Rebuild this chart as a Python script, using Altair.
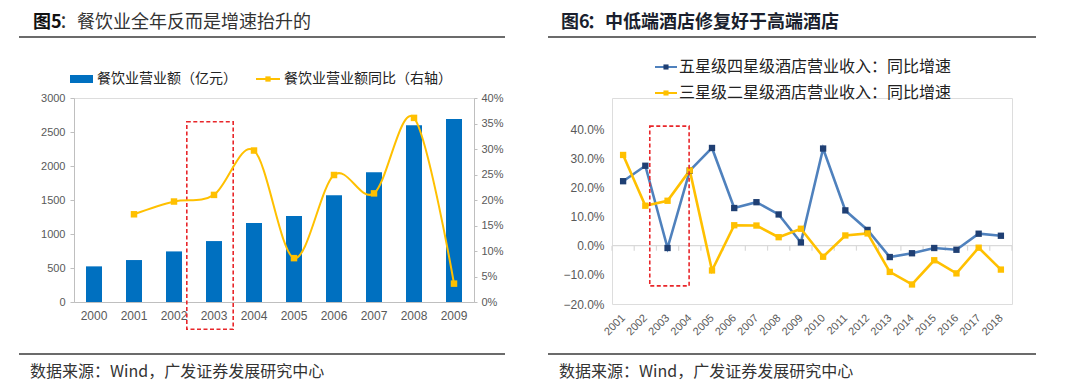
import altair as alt
import pandas as pd

# ---------------- data: left chart (图5) ----------------
years_l = ["2000", "2001", "2002", "2003", "2004", "2005", "2006", "2007", "2008", "2009"]
revenue = [524, 617, 744, 896, 1160, 1263, 1571, 1909, 2599, 2692]
yoy_years = ["2001", "2002", "2003", "2004", "2005", "2006", "2007", "2008", "2009"]
yoy = [0.172, 0.197, 0.210, 0.297, 0.086, 0.249, 0.213, 0.361, 0.036]

# ---------------- data: right chart (图6) ----------------
years_r = [2001, 2002, 2003, 2004, 2005, 2006, 2007, 2008, 2009, 2010,
           2011, 2012, 2013, 2014, 2015, 2016, 2017, 2018]
high_end = [0.221, 0.274, -0.008, 0.257, 0.335, 0.129, 0.149, 0.107, 0.011, 0.333,
            0.121, 0.054, -0.039, -0.026, -0.008, -0.014, 0.041, 0.034]
low_end = [0.311, 0.137, 0.154, 0.258, -0.085, 0.070, 0.069, 0.029, 0.058, -0.038,
           0.035, 0.042, -0.090, -0.133, -0.050, -0.095, -0.007, -0.082]
boundaries = [2000.5, 2001.5, 2002.5, 2003.5, 2004.5, 2005.5, 2006.5, 2007.5, 2008.5,
              2009.5, 2010.5, 2011.5, 2012.5, 2013.5, 2014.5, 2015.5, 2016.5, 2017.5, 2018.5]

# tick labels
ticks_rev = [0, 500, 1000, 1500, 2000, 2500, 3000]
ticks_yoy = [0, 0.05, 0.1, 0.15, 0.2, 0.25, 0.3, 0.35, 0.4]
ticks_r = [-0.2, -0.1, 0, 0.1, 0.2, 0.3, 0.4]

# highlighted boxes (annotation)
box_l = {"year": "2003", "top": 2650, "bottom": -400}
box_r = {"x0": 2002.2, "x1": 2003.97, "top": 0.41, "bottom": -0.138}

CJK = "Noto Sans CJK SC"
LAT = "Liberation Sans"
LBL = "#595959"
AX = "#bfbfbf"
BLUE_BAR = "#0070C0"
YEL = "#FFC000"
LBLUE = "#4F81BD"
NAVY = "#1F3F73"
RED = "#E8262A"
RULE = "#3a3a3a"

one = pd.DataFrame({"a": [0]})


def text(t, x, y, size, weight="normal", color="#222", font=CJK):
    return alt.Chart(one).mark_text(
        text=t, align="left", baseline="middle", font=font, fontSize=size,
        fontWeight=weight, color=color
    ).encode(x=alt.value(x), y=alt.value(y))


def hrule(x0, x1, y, color=RULE, w=1.6, op=1):
    return alt.Chart(one).mark_rule(color=color, strokeWidth=w, opacity=op).encode(
        x=alt.value(x0), x2=alt.value(x1), y=alt.value(y))


def sq(x, y, color, size=30):
    return alt.Chart(one).mark_square(color=color, size=size, opacity=1).encode(
        x=alt.value(x), y=alt.value(y))


# ================= LEFT PANEL =================
df_l = pd.DataFrame({"year": years_l, "revenue": revenue})
df_yoy = pd.DataFrame({"year": yoy_years, "yoy": yoy})
df_box_l = pd.DataFrame([box_l])

xs_l = alt.Scale(paddingInner=0.6, paddingOuter=0.3)
x_axis_l = alt.Axis(title=None, labelAngle=0, ticks=False, domainColor=AX,
                    labelPadding=8, labelFont=LAT, labelFontSize=12,
                    labelColor=LBL, labelOverlap=False)
y_axis_rev = alt.Axis(title=None, values=ticks_rev, format="d", grid=False,
                      domainColor=AX, tickColor=AX, tickSize=4, labelPadding=5,
                      labelFont=LAT, labelFontSize=11, labelColor=LBL,
                      labelOverlap=False, tickCount=7)
y_axis_yoy = alt.Axis(title=None, orient="right", format=".0%", values=ticks_yoy,
                      grid=False, domainColor=AX, tickColor=AX, tickSize=3,
                      labelPadding=4, labelFont=LAT, labelFontSize=11,
                      labelColor=LBL, labelOverlap=False, tickCount=9)

bars = alt.Chart(df_l).mark_bar(color=BLUE_BAR).encode(
    x=alt.X("year:N", scale=xs_l, sort=years_l, axis=x_axis_l),
    y=alt.Y("revenue:Q", scale=alt.Scale(domain=[0, 3000], nice=False), axis=y_axis_rev),
)

box1 = alt.Chart(df_box_l).mark_bar(
    filled=False, stroke=RED, strokeDash=[4, 2.5], strokeWidth=1.6,
    width={"band": 2.9}
).encode(
    x=alt.X("year:N", sort=years_l, axis=x_axis_l),
    y=alt.Y("top:Q", axis=y_axis_rev),
    y2="bottom:Q",
    xOffset=alt.value(-4),
)

line_l = alt.Chart(df_yoy).mark_line(color=YEL, strokeWidth=2, interpolate="cardinal").encode(
    x=alt.X("year:N", sort=years_l, axis=x_axis_l),
    y=alt.Y("yoy:Q", scale=alt.Scale(domain=[0, 0.4], nice=False), axis=y_axis_yoy),
)
pts_l = alt.Chart(df_yoy).mark_square(color=YEL, size=42, opacity=1).encode(
    x=alt.X("year:N", sort=years_l, axis=x_axis_l),
    y=alt.Y("yoy:Q", axis=y_axis_yoy),
)

ann_l = alt.layer(
    hrule(-50, 0, -89, "#ffffff", 1, 0),
    text("图5", -41, -75, 18, "bold", "#111"),
    text("：餐饮业全年反而是增速抬升的", -15, -75, 18, "normal", "#333"),
    hrule(-55, 431, -61),
    alt.Chart(one).mark_rect(color=BLUE_BAR).encode(
        x=alt.value(-4), x2=alt.value(19), y=alt.value(-23), y2=alt.value(-15)),
    text("餐饮业营业额（亿元）", 23, -19, 14),
    hrule(182, 206, -19, YEL, 2),
    sq(194, -19, YEL, 28),
    text("餐饮业营业额同比（右轴）", 210, -19, 14),
    hrule(-55, 431, 256),
    text("数据来源：Wind，广发证券发展研究中心", -44, 274, 16, "normal", "#333"),
)

left = alt.layer(
    alt.layer(bars, box1),
    alt.layer(line_l, pts_l),
    ann_l,
).resolve_scale(y="independent").properties(width=400, height=204)

# ================= RIGHT PANEL =================
df_r = pd.DataFrame({
    "year": years_r * 2,
    "value": high_end + low_end,
    "series": ["high"] * len(years_r) + ["low"] * len(years_r),
})
df_bd = pd.DataFrame({"x": boundaries})
df_zero = pd.DataFrame({"x0": [boundaries[0]], "x1": [boundaries[-1]], "y": [0.0]})
df_box_r = pd.DataFrame([box_r])

# plot area top is shared with the left panel; 40% sits 31px below it
y_top = 0.4 + 0.6 * 31 / 175
xs_r = alt.Scale(domain=[2000.5, 2018.5], nice=False, zero=False)
ys_r = alt.Scale(domain=[-0.2, y_top], nice=False)

x_axis_r = alt.Axis(title=None, values=years_r, format="d", labelAngle=-45,
                    labelAlign="right", labelBaseline="middle", domain=False,
                    ticks=False, grid=False, labelPadding=12, labelFont=LAT,
                    labelFontSize=11, labelColor=LBL, labelOverlap=False)
y_axis_r = alt.Axis(title=None, values=ticks_r, format=".1%", domain=False,
                    ticks=False, grid=False, labelPadding=8, labelFont=LAT,
                    labelFontSize=12, labelColor=LBL, labelOverlap=False)

zero_line = alt.Chart(df_zero).mark_rule(color="#d9d9d9", strokeWidth=1.2).encode(
    x=alt.X("x0:Q", scale=xs_r, axis=x_axis_r),
    x2="x1:Q",
    y=alt.Y("y:Q", scale=ys_r, axis=y_axis_r),
)
tick_marks = alt.Chart(df_bd).transform_calculate(y0="0", y1="-0.017").mark_rule(
    color="#d9d9d9", strokeWidth=1.2).encode(
    x=alt.X("x:Q", scale=xs_r, axis=x_axis_r),
    y=alt.Y("y0:Q", axis=y_axis_r),
    y2="y1:Q",
)

box2 = alt.Chart(df_box_r).mark_rect(
    filled=False, stroke=RED, strokeDash=[4, 2.5], strokeWidth=1.6
).encode(
    x=alt.X("x0:Q", scale=xs_r, axis=x_axis_r), x2="x1:Q",
    y=alt.Y("top:Q", scale=ys_r, axis=y_axis_r), y2="bottom:Q",
)

cscale = alt.Scale(domain=["high", "low"], range=[LBLUE, YEL])
mscale = alt.Scale(domain=["high", "low"], range=[NAVY, YEL])

lines_r = alt.Chart(df_r).mark_line(strokeWidth=2.6).encode(
    x=alt.X("year:Q", scale=xs_r, axis=x_axis_r),
    y=alt.Y("value:Q", scale=ys_r, axis=y_axis_r),
    color=alt.Color("series:N", scale=cscale, legend=None),
    order=alt.Order("year:Q"),
)
pts_r = alt.Chart(df_r).mark_square(size=40, opacity=1).encode(
    x=alt.X("year:Q", scale=xs_r, axis=x_axis_r),
    y=alt.Y("value:Q", scale=ys_r, axis=y_axis_r),
    fill=alt.Fill("series:N", scale=mscale, legend=None),
)

ann_r = alt.layer(
    hrule(-50, 0, -89, "#ffffff", 1, 0),
    text("图6", -51, -75, 18, "bold", "#1a1f2e"),
    text("：中低端酒店修复好于高端酒店", -25, -75, 18, "bold", "#1a1f2e"),
    hrule(-64, 424, -61),
    hrule(43, 65, -31, LBLUE, 2),
    sq(54, -31, NAVY, 26),
    text("五星级四星级酒店营业收入：同比增速", 67, -31, 16),
    hrule(43, 65, -5, YEL, 2),
    sq(54, -5, YEL, 26),
    text("三星级二星级酒店营业收入：同比增速", 67, -5, 16),
    hrule(-64, 424, 256),
    text("数据来源：Wind，广发证券发展研究中心", -53, 274, 16, "normal", "#333"),
)

right = alt.layer(
    zero_line, tick_marks, lines_r, pts_r, box2, ann_r
).properties(width=400, height=206)

chart = alt.hconcat(left, right, spacing=39).properties(
    padding={"left": 9, "top": 0, "right": 0, "bottom": 0}
).configure_view(stroke=None).configure_axis(labelOverlap=False).configure(
    background="white")

chart.save("out.html", embed_options={"renderer": "svg", "actions": False})
